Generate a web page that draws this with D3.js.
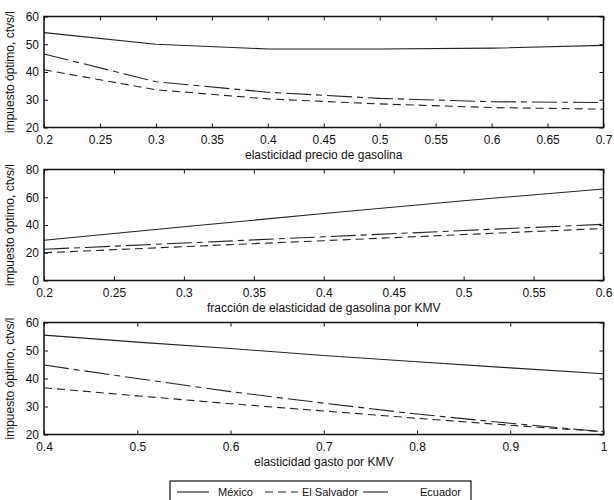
<!DOCTYPE html>
<html>
<head>
	<meta charset="utf-8">
	<title>impuesto optimo</title>
	<script src="https://cdn.jsdelivr.net/npm/d3@7"></script>
	<style>
		body { margin: 0; background: #fff; }
		text { font-family: "Liberation Sans", Arial, sans-serif; font-size: 12px; fill: #111; }
	</style>
</head>
<body>
	<script type="text/javascript">
		var width = 614,
			height = 500;

		// panel 1: elasticidad precio de gasolina
		var precioX = [0.2, 0.3, 0.4, 0.5, 0.6, 0.7];
		var precioMexico = [54.2, 50.0, 48.3, 48.3, 48.6, 49.6];
		var precioSalvador = [40.8, 33.6, 30.3, 28.5, 27.2, 26.6];
		var precioEcuador = [46.5, 36.5, 32.7, 30.5, 29.3, 29.0];
		var precioTicks = [0.2, 0.25, 0.3, 0.35, 0.4, 0.45, 0.5, 0.55, 0.6, 0.65, 0.7];

		// panel 2: fraccion de elasticidad por KMV
		var fraccionX = [0.2, 0.3, 0.4, 0.5, 0.6];
		var fraccionMexico = [29.0, 38.7, 48.3, 57.5, 66.0];
		var fraccionSalvador = [20.0, 24.4, 28.7, 33.1, 37.5];
		var fraccionEcuador = [22.5, 27.0, 31.5, 36.0, 40.5];
		var fraccionTicks = [0.2, 0.25, 0.3, 0.35, 0.4, 0.45, 0.5, 0.55, 0.6];

		// panel 3: elasticidad gasto por KMV
		var gastoX = [0.4, 0.5, 0.6, 0.7, 0.8, 0.9, 1.0];
		var gastoMexico = [55.5, 53.0, 50.7, 48.2, 46.0, 43.8, 41.7];
		var gastoSalvador = [36.7, 33.8, 31.0, 28.4, 25.8, 23.3, 21.0];
		var gastoEcuador = [44.8, 40.0, 35.3, 31.2, 27.3, 24.0, 21.0];
		var gastoTicks = [0.4, 0.5, 0.6, 0.7, 0.8, 0.9, 1];

		var seriesNames = ['México', 'El Salvador', 'Ecuador'];
		var dashes = [null, '8,5', '25,5,6,5'];
		var yLabel = 'impuesto óptimo, ctvs/l';

		var panels = [
			{x: precioX, ys: [precioMexico, precioSalvador, precioEcuador], xTicks: precioTicks,
			 xDomain: [0.2, 0.7], yDomain: [20, 60], yTicks: [20, 30, 40, 50, 60],
			 xLabel: 'elasticidad precio de gasolina', top: 16.5, bottom: 127.5},
			{x: fraccionX, ys: [fraccionMexico, fraccionSalvador, fraccionEcuador], xTicks: fraccionTicks,
			 xDomain: [0.2, 0.6], yDomain: [0, 80], yTicks: [0, 20, 40, 60, 80],
			 xLabel: 'fracción de elasticidad de gasolina por KMV', top: 169.5, bottom: 280.5},
			{x: gastoX, ys: [gastoMexico, gastoSalvador, gastoEcuador], xTicks: gastoTicks,
			 xDomain: [0.4, 1], yDomain: [20, 60], yTicks: [20, 30, 40, 50, 60],
			 xLabel: 'elasticidad gasto por KMV', top: 322.5, bottom: 434.5}
		];

		var left = 44, right = 603.5;

		var svg = d3.select('body')
					.append('svg')
					.attr('width', width)
					.attr('height', height);

		panels.forEach(function(p){
			var x = d3.scaleLinear().domain(p.xDomain).range([left, right]);
			var y = d3.scaleLinear().domain(p.yDomain).range([p.bottom, p.top]);
			var g = svg.append('g');

			// inward ticks on all four sides
			g.append('g').attr('transform', 'translate(0,' + p.bottom + ')')
				.call(d3.axisBottom(x).tickValues(p.xTicks).tickSizeInner(-4).tickSizeOuter(0).tickPadding(7.5).tickFormat(d3.format('')))
				.call(function(a){ a.select('.domain').remove(); });
			g.append('g').attr('transform', 'translate(0,' + p.top + ')')
				.call(d3.axisTop(x).tickValues(p.xTicks).tickSizeInner(-4).tickSizeOuter(0).tickFormat(''))
				.call(function(a){ a.select('.domain').remove(); });
			g.append('g').attr('transform', 'translate(' + left + ',0)')
				.call(d3.axisLeft(y).tickValues(p.yTicks).tickSizeInner(-4).tickSizeOuter(0).tickPadding(5))
				.call(function(a){ a.select('.domain').remove(); });
			g.append('g').attr('transform', 'translate(' + right + ',0)')
				.call(d3.axisRight(y).tickValues(p.yTicks).tickSizeInner(-4).tickSizeOuter(0).tickFormat(''))
				.call(function(a){ a.select('.domain').remove(); });

			g.selectAll('.tick line').attr('stroke', '#111');
			g.selectAll('.tick text').style('font-size', '12px').attr('fill', '#111')
				.style('font-family', '"Liberation Sans", Arial, sans-serif');

			var line = d3.line()
				.x(function(d, i){ return x(p.x[i]); })
				.y(function(d){ return y(d); });

			p.ys.forEach(function(s, k){
				g.append('path')
					.datum(s)
					.attr('d', line)
					.attr('fill', 'none')
					.attr('stroke', '#222')
					.attr('stroke-width', 1.1)
					.attr('stroke-dasharray', dashes[k]);
			});

			g.append('rect')
				.attr('x', left).attr('y', p.top)
				.attr('width', right - left).attr('height', p.bottom - p.top)
				.attr('fill', 'none').attr('stroke', '#111').attr('stroke-width', 1.5);

			g.append('text')
				.attr('x', (left + right) / 2).attr('y', p.bottom + 31)
				.attr('text-anchor', 'middle')
				.text(p.xLabel);

			g.append('text')
				.attr('transform', 'translate(14,' + (p.top + p.bottom) / 2 + ') rotate(-90)')
				.attr('text-anchor', 'middle')
				.text(yLabel);
		});

		// legend
		var lg = svg.append('g');
		lg.append('rect')
			.attr('x', 170).attr('y', 481)
			.attr('width', 301).attr('height', 24)
			.attr('fill', '#fff').attr('stroke', '#111').attr('stroke-width', 1.2);
		var legendItems = [
			{x1: 177, x2: 209, tx: 218},
			{x1: 265, x2: 298, tx: 302},
			{x1: 363, x2: 388, tx: 420}
		];
		legendItems.forEach(function(it, k){
			lg.append('line')
				.attr('x1', it.x1).attr('x2', it.x2)
				.attr('y1', 492).attr('y2', 492)
				.attr('stroke', '#222').attr('stroke-width', 1.1)
				.attr('stroke-dasharray', dashes[k]);
			lg.append('text')
				.attr('x', it.tx).attr('y', 496)
				.style('font-size', '11px')
				.text(seriesNames[k]);
		});
	</script>
</body>
</html>
